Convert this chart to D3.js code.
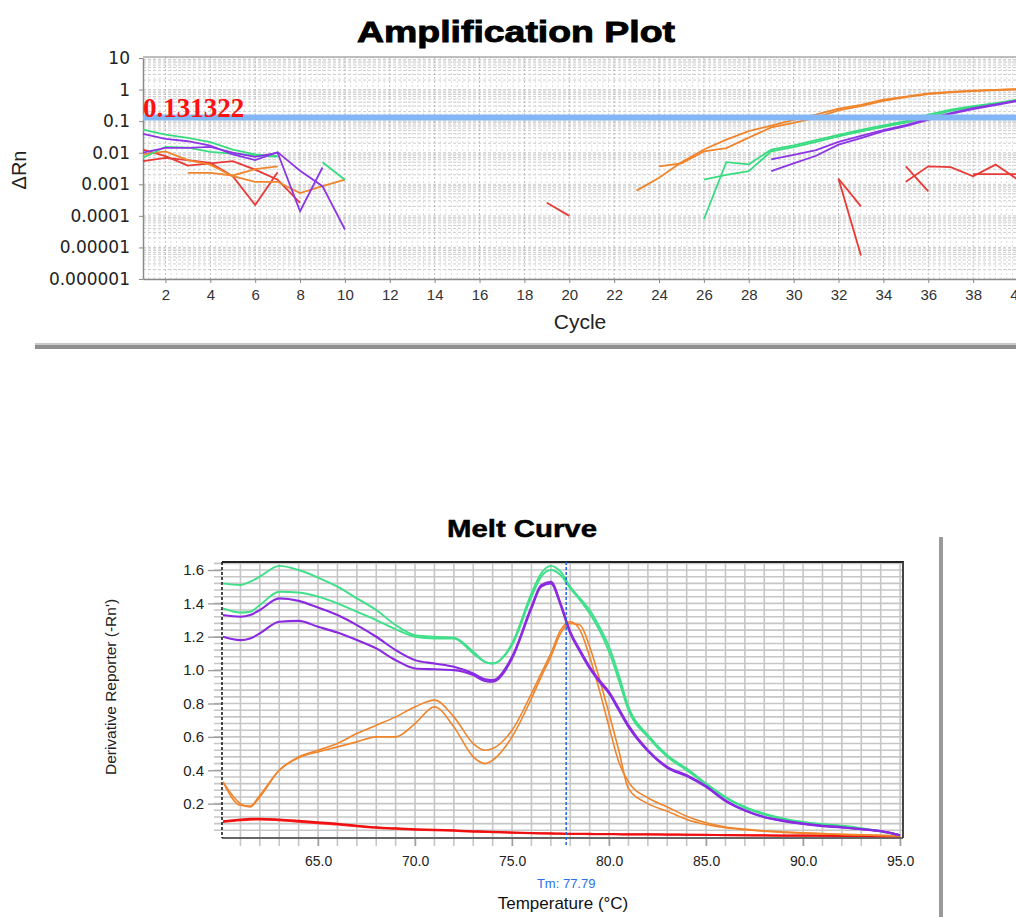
<!DOCTYPE html>
<html><head><meta charset="utf-8">
<script src="https://cdn.jsdelivr.net/npm/d3@7"></script>
<style>body{margin:0;background:#fff;} svg{display:block}</style>
</head><body>
<svg id="c" width="1016" height="917"></svg>
<script>
// ---------------- Amplification plot data (cycle, ΔRn) ----------------
const ampYTicks = [1e-6, 1e-5, 1e-4, 1e-3, 1e-2, 0.1, 1, 10];
const ampYTickLabels = ["0.000001","0.00001","0.0001","0.001","0.01","0.1","1","10"];
const ampXTicks = [2,4,6,8,10,12,14,16,18,20,22,24,26,28,30,32,34,36,38,40];
const threshold = 0.131322;

const ampGreenA = [[1,0.054],[2,0.0375],[3,0.0295],[4,0.0216],[5,0.0126],[6,0.0088],[7,0.0078]];
const ampGreenB = [[1,0.0069],[2,0.0154],[3,0.0145],[4,0.0107],[5,0.0093],[6,0.0082],[7,0.0075]];
const ampGreenC = [[9,0.005],[10,0.0014]];
const ampGreenD = [[26,0.000078],[27,0.005],[28,0.0043],[29,0.0126],[30,0.017],[31,0.025],[32,0.037],[33,0.053],[34,0.074],[35,0.1],[36,0.16],[37,0.23],[38,0.3],[39,0.37],[40,0.48]];
const ampGreenE = [[26,0.0014],[27,0.002],[28,0.0026],[29,0.011],[30,0.015],[31,0.022],[32,0.033],[33,0.047],[34,0.066],[35,0.09],[36,0.14],[37,0.21],[38,0.28],[39,0.35],[40,0.45]];

const ampPurpleA = [[1,0.0396],[2,0.0276],[3,0.0231],[4,0.0169],[5,0.0088],[6,0.0058],[7,0.0104],[8,0.0027],[9,0.00087],[10,0.000037]];
const ampPurpleB = [[1,0.01],[2,0.0143],[3,0.0143],[4,0.0154],[5,0.01],[6,0.0074],[7,0.01],[8,0.00014],[9,0.0034]];
const ampPurpleC = [[29,0.0026],[30,0.0046],[31,0.008],[32,0.018],[33,0.029],[34,0.048],[35,0.07],[36,0.11],[37,0.17],[38,0.24],[39,0.32],[40,0.44]];
const ampPurpleD = [[29,0.0061],[30,0.0085],[31,0.012],[32,0.022],[33,0.034],[34,0.052],[35,0.075],[36,0.12],[37,0.18],[38,0.26],[39,0.34],[40,0.46]];

const ampRedA = [[1,0.0126],[2,0.0078],[3,0.0039],[4,0.0046],[5,0.0054],[6,0.0029],[7,0.0014],[8,0.00026]];
const ampRedB = [[1,0.0054],[2,0.0069],[3,0.0058],[4,0.0048],[5,0.0018],[6,0.00022],[7,0.0024]];
const ampRedC = [[19,0.00026],[20,0.0001]];
const ampRedD = [[32,0.0015],[33,0.0002]];
const ampRedE = [[32,0.0015],[33,0.0000056]];
const ampRedF = [[35,0.0037],[36,0.0006]];
const ampRedG = [[35,0.0012],[36,0.0037],[37,0.0035],[38,0.0018],[39,0.0042],[40,0.0014]];
const ampRedH = [[38,0.0021],[40,0.0021]];

const ampOrangeA = [[1,0.0088],[2,0.011],[3,0.0058],[4,0.0042],[5,0.0018],[6,0.0012],[7,0.0012],[8,0.00053],[9,0.00087],[10,0.0014]];
const ampOrangeB = [[3,0.0023],[4,0.0023],[5,0.0019],[6,0.003],[7,0.0037]];
const ampOrangeC = [[23,0.00063],[24,0.0016],[25,0.005],[26,0.0126],[27,0.026],[28,0.048],[29,0.072],[30,0.11],[31,0.16],[32,0.25],[33,0.33],[34,0.48],[35,0.6],[36,0.75],[37,0.84],[38,0.92],[39,0.98],[40,1.03]];
const ampOrangeD = [[24,0.0037],[25,0.0046],[26,0.011],[27,0.014],[28,0.03],[29,0.063],[30,0.088],[31,0.13],[32,0.22],[33,0.3],[34,0.44],[35,0.58],[36,0.72],[37,0.82],[38,0.9],[39,0.97],[40,1.02]];

// ---------------- Melt curve data ----------------
const meltTemps = [60.1,61,61.5,62,63,64,65,66,67,68,69,70,71,72,73,73.6,74,75,76,76.5,77,77.5,78,78.5,79,79.5,80,80.5,81,82,83,84,85,86,87,88,89,90,91,92,93,94,95];
const meltGreenA = [1.52,1.51,1.53,1.56,1.625,1.60,1.555,1.50,1.43,1.36,1.27,1.21,1.20,1.195,1.11,1.05,1.04,1.16,1.46,1.58,1.625,1.59,1.50,1.43,1.36,1.26,1.14,0.97,0.78,0.61,0.49,0.41,0.32,0.24,0.18,0.14,0.11,0.09,0.077,0.067,0.053,0.035,0.012];
const meltGreenB = [1.37,1.345,1.35,1.39,1.47,1.465,1.44,1.40,1.35,1.30,1.245,1.20,1.19,1.19,1.10,1.05,1.04,1.15,1.44,1.56,1.60,1.57,1.49,1.42,1.34,1.24,1.11,0.94,0.76,0.60,0.48,0.40,0.315,0.235,0.175,0.135,0.108,0.088,0.075,0.065,0.05,0.033,0.011];
const meltPurpleA = [1.33,1.32,1.33,1.36,1.43,1.415,1.375,1.33,1.27,1.20,1.12,1.06,1.04,1.02,0.98,0.945,0.94,1.08,1.38,1.51,1.53,1.40,1.23,1.12,1.02,0.94,0.87,0.77,0.67,0.52,0.42,0.37,0.305,0.22,0.16,0.12,0.098,0.08,0.067,0.058,0.047,0.036,0.01];
const meltPurpleB = [1.20,1.18,1.19,1.22,1.29,1.295,1.26,1.225,1.18,1.13,1.06,1.01,1.005,1.0,0.97,0.935,0.93,1.07,1.37,1.50,1.52,1.39,1.22,1.11,1.01,0.93,0.86,0.76,0.66,0.515,0.415,0.365,0.30,0.215,0.158,0.118,0.095,0.078,0.065,0.057,0.046,0.035,0.009];
const meltOrangeA = [0.33,0.20,0.18,0.24,0.40,0.48,0.52,0.56,0.62,0.67,0.72,0.78,0.82,0.72,0.56,0.52,0.53,0.64,0.86,0.98,1.10,1.24,1.29,1.24,1.08,0.88,0.66,0.45,0.33,0.235,0.18,0.125,0.085,0.06,0.047,0.037,0.03,0.025,0.02,0.016,0.013,0.01,0.007];
const meltOrangeB = [0.33,0.19,0.185,0.25,0.40,0.475,0.51,0.54,0.57,0.60,0.60,0.68,0.78,0.66,0.48,0.44,0.46,0.60,0.83,0.96,1.08,1.22,1.28,1.27,1.14,0.95,0.74,0.52,0.29,0.20,0.155,0.105,0.075,0.055,0.043,0.034,0.028,0.023,0.019,0.015,0.012,0.009,0.006];
const meltRedA = [0.095,0.105,0.11,0.11,0.105,0.097,0.088,0.08,0.068,0.058,0.052,0.047,0.044,0.04,0.035,0.033,0.031,0.027,0.024,0.023,0.022,0.021,0.02,0.019,0.019,0.018,0.018,0.017,0.017,0.016,0.015,0.014,0.013,0.012,0.011,0.01,0.009,0.009,0.008,0.007,0.006,0.006,0.005];
const meltRedB = [0.09,0.1,0.104,0.105,0.1,0.092,0.083,0.075,0.064,0.055,0.049,0.044,0.041,0.037,0.032,0.03,0.029,0.025,0.022,0.021,0.02,0.019,0.018,0.018,0.017,0.017,0.016,0.016,0.015,0.015,0.014,0.013,0.012,0.011,0.01,0.009,0.008,0.008,0.007,0.006,0.006,0.005,0.004];
const meltXTickLabels = [65,70,75,80,85,90,95];
const meltYTickLabels = [0.2,0.4,0.6,0.8,1.0,1.2,1.4,1.6];
const tmValue = 77.79;

// ---------------- Drawing ----------------
const svg = d3.select("#c");
const C = {green:"#38dc80", purple:"#8c36e6", orange:"#f0852c", red:"#e83a36"};

// === Amplification plot ===
const ax = d3.scaleLinear().domain([1,40]).range([143,1018]);
const ay = d3.scaleLog().domain([1e-6,10]).range([279,58]);
const aTop = 57, aBot = 279, aLeft = 143, aRight = 1020;

svg.append("text").attr("x",516).attr("y",42).attr("text-anchor","middle")
  .attr("font-family","Liberation Sans, Arial, sans-serif").attr("font-weight","bold")
  .attr("font-size",30).attr("stroke","#000").attr("stroke-width",0.9)
  .attr("textLength",318).attr("lengthAdjust","spacingAndGlyphs").text("Amplification Plot");

const ag = svg.append("g");
// minor horizontal grid
const hMinor = [];
for (let d=-6; d<=0; d++) for (let m=1; m<=9; m++) hMinor.push(m*Math.pow(10,d));
ag.selectAll(".hm").data(hMinor).enter().append("line")
  .attr("x1",aLeft).attr("x2",aRight).attr("y1",d=>ay(d)).attr("y2",d=>ay(d))
  .attr("stroke","#cdcdcd").attr("stroke-width",1).attr("stroke-dasharray","3,2");
// vertical grid
const vMinor = d3.range(1.25, 40.6, 0.25);
ag.selectAll(".vm").data(vMinor).enter().append("line")
  .attr("x1",d=>ax(d)).attr("x2",d=>ax(d)).attr("y1",aTop).attr("y2",aBot)
  .attr("stroke",d=> (Math.abs(d%2)<1e-9) ? "#bcbcbc" : "#dcdcdc")
  .attr("stroke-width",1).attr("stroke-dasharray","2,2");

// frame
ag.append("line").attr("x1",aLeft).attr("x2",aRight).attr("y1",aTop).attr("y2",aTop).attr("stroke","#a8a8a8").attr("stroke-width",1.5);

// axes
const axB = ag.append("g").attr("transform",`translate(0,${aBot})`)
  .call(d3.axisBottom(ax).tickValues(ampXTicks).tickSize(4).tickSizeOuter(0).tickFormat(d3.format("d")));
axB.select(".domain").attr("stroke","#8a8a8a").attr("stroke-width",1.5);
axB.selectAll(".tick line").attr("stroke","#8a8a8a");
axB.selectAll("text").attr("font-family","Liberation Sans Narrow, Arial Narrow, Liberation Sans, sans-serif")
  .attr("font-size",15).attr("fill","#333").attr("dy","0.95em");

const axL = ag.append("g").attr("transform",`translate(${aLeft},0)`)
  .call(d3.axisLeft(ay).tickValues(ampYTicks).tickSize(4).tickSizeOuter(0)
     .tickFormat((d,i)=>ampYTickLabels[i]));
axL.select(".domain").attr("stroke","#8a8a8a").attr("stroke-width",1.5);
axL.selectAll(".tick line").attr("stroke","#8a8a8a");
axL.selectAll("text").attr("font-family","DejaVu Sans, sans-serif").attr("font-size",17).attr("fill","#222").attr("dx","-6");

svg.append("text").attr("transform","translate(26,170) rotate(-90)").attr("text-anchor","middle")
  .attr("font-family","Liberation Sans, Arial, sans-serif").attr("font-size",20).attr("fill","#222").text("ΔRn");
svg.append("text").attr("x",580).attr("y",329).attr("text-anchor","middle")
  .attr("font-family","Liberation Sans, Arial, sans-serif").attr("font-size",21).attr("fill","#222").text("Cycle");

// curves
const aLine = d3.line().x(d=>ax(d[0])).y(d=>ay(d[1]));
const ampSeries = [
  [ampRedA,C.red],[ampRedB,C.red],[ampRedC,C.red],[ampRedD,C.red],[ampRedE,C.red],[ampRedF,C.red],[ampRedG,C.red],[ampRedH,C.red],
  [ampOrangeA,C.orange],[ampOrangeB,C.orange],[ampOrangeC,C.orange],[ampOrangeD,C.orange],
  [ampGreenA,C.green],[ampGreenB,C.green],[ampGreenC,C.green],[ampGreenD,C.green],[ampGreenE,C.green],
  [ampPurpleA,C.purple],[ampPurpleB,C.purple],[ampPurpleC,C.purple],[ampPurpleD,C.purple]
];
ag.selectAll(".ac").data(ampSeries).enter().append("path")
  .attr("d",d=>aLine(d[0])).attr("fill","none").attr("stroke",d=>d[1]).attr("stroke-width",1.8);

// threshold
ag.append("line").attr("x1",aLeft).attr("x2",aRight).attr("y1",ay(threshold)).attr("y2",ay(threshold))
  .attr("stroke","#82b6f6").attr("stroke-width",6);
svg.append("text").attr("x",143).attr("y",117).attr("font-family","Liberation Serif, Times New Roman, serif")
  .attr("font-weight","bold").attr("font-size",27).attr("fill","#ff1010").text(String(threshold));

// separator bar
svg.append("rect").attr("x",35).attr("y",343).attr("width",981).attr("height",2).attr("fill","#c9c9c9");
svg.append("rect").attr("x",35).attr("y",345).attr("width",981).attr("height",4).attr("fill","#8e8e8e");

// === Melt curve ===
const mx = d3.scaleLinear().domain([60.05,95.15]).range([222,903]);
const my = d3.scaleLinear().domain([-0.006,1.648]).range([838,562]);
const mL=222, mR=903, mT=562, mB=838;

svg.append("text").attr("x",522).attr("y",537).attr("text-anchor","middle")
  .attr("font-family","Liberation Sans, Arial, sans-serif").attr("font-weight","bold")
  .attr("font-size",24).attr("stroke","#000").attr("stroke-width",0.5)
  .attr("textLength",150).attr("lengthAdjust","spacingAndGlyphs").text("Melt Curve");

const mg = svg.append("g");
const hGrid = d3.range(1,42).map(k=>k*0.04);
const vGrid = d3.range(61,96);
mg.selectAll(".mh").data(hGrid).enter().append("line")
  .attr("x1",mL-8).attr("x2",mR).attr("y1",d=>my(d)).attr("y2",d=>my(d))
  .attr("stroke","#c6c6c6").attr("stroke-width",1.6);
mg.selectAll(".mv").data(vGrid).enter().append("line")
  .attr("x1",d=>mx(d)).attr("x2",d=>mx(d)).attr("y1",mT).attr("y2",mB+8)
  .attr("stroke","#c6c6c6").attr("stroke-width",1.6);

// y axis labels & major ticks
const myAx = mg.append("g").attr("transform",`translate(${mL},0)`)
  .call(d3.axisLeft(my).tickValues(meltYTickLabels).tickSize(14).tickSizeOuter(0).tickFormat(d3.format(".1f")));
myAx.select(".domain").remove();
myAx.selectAll(".tick line").attr("stroke","#a0a0a0").attr("stroke-width",1.4);
myAx.selectAll("text").attr("font-family","Liberation Sans, Arial, sans-serif").attr("font-size",15).attr("fill","#222").attr("dx","-1");

const mxAx = mg.append("g").attr("transform",`translate(0,${mB})`)
  .call(d3.axisBottom(mx).tickValues(meltXTickLabels).tickSize(8).tickSizeOuter(0).tickFormat(d3.format(".1f")));
mxAx.select(".domain").remove();
mxAx.selectAll(".tick line").attr("stroke","#a0a0a0").attr("stroke-width",1.4);
mxAx.selectAll("text").attr("font-family","Liberation Sans, Arial, sans-serif").attr("font-size",14).attr("fill","#222").attr("dy","1.2em");

// frame
mg.append("line").attr("x1",mL).attr("x2",mR).attr("y1",mB).attr("y2",mB).attr("stroke","#666").attr("stroke-width",2);
mg.append("line").attr("x1",mL).attr("x2",mR+1).attr("y1",mT).attr("y2",mT).attr("stroke","#222").attr("stroke-width",2.2);
mg.append("line").attr("x1",mR).attr("x2",mR).attr("y1",mT).attr("y2",mB).attr("stroke","#444").attr("stroke-width",2);
mg.append("line").attr("x1",mL).attr("x2",mL).attr("y1",mT).attr("y2",mB).attr("stroke","#111").attr("stroke-width",1.5).attr("stroke-dasharray","3,2");

// curves
const mLine = d3.line().x((d,i)=>mx(meltTemps[i])).y(d=>my(d)).curve(d3.curveMonotoneX);
const meltSeries = [
  [meltRedB,"#ff2020",2],[meltRedA,"#ee1010",2],
  [meltOrangeA,C.orange,1.6],[meltOrangeB,C.orange,1.6],
  [meltGreenA,"#3ee08a",1.9],[meltGreenB,"#3ee08a",1.9],
  [meltPurpleA,"#8a2be2",2.1],[meltPurpleB,"#8a2be2",2.1]
];
mg.selectAll(".mc").data(meltSeries).enter().append("path")
  .attr("d",d=>mLine(d[0])).attr("fill","none").attr("stroke",d=>d[1]).attr("stroke-width",d=>d[2]);

// Tm line
mg.append("line").attr("x1",mx(tmValue)).attr("x2",mx(tmValue)).attr("y1",mT).attr("y2",mB+9)
  .attr("stroke","#1f66e0").attr("stroke-width",1.5).attr("stroke-dasharray","3,2");
svg.append("text").attr("x",mx(tmValue)).attr("y",888).attr("text-anchor","middle")
  .attr("font-family","Liberation Sans, Arial, sans-serif").attr("font-size",13).attr("fill","#2a72e8").text("Tm: " + tmValue);
svg.append("text").attr("x",563).attr("y",909).attr("text-anchor","middle")
  .attr("font-family","Liberation Sans, Arial, sans-serif").attr("font-size",17).attr("fill","#111").text("Temperature (°C)");
svg.append("text").attr("transform","translate(116,687) rotate(-90)").attr("text-anchor","middle")
  .attr("font-family","Liberation Sans, Arial, sans-serif").attr("font-size",15.5).attr("fill","#222").text("Derivative Reporter (-Rn')");

// right shadow bar
svg.append("rect").attr("x",939).attr("y",537).attr("width",4).attr("height",380).attr("fill","#9a9a9a");
</script></body></html>
